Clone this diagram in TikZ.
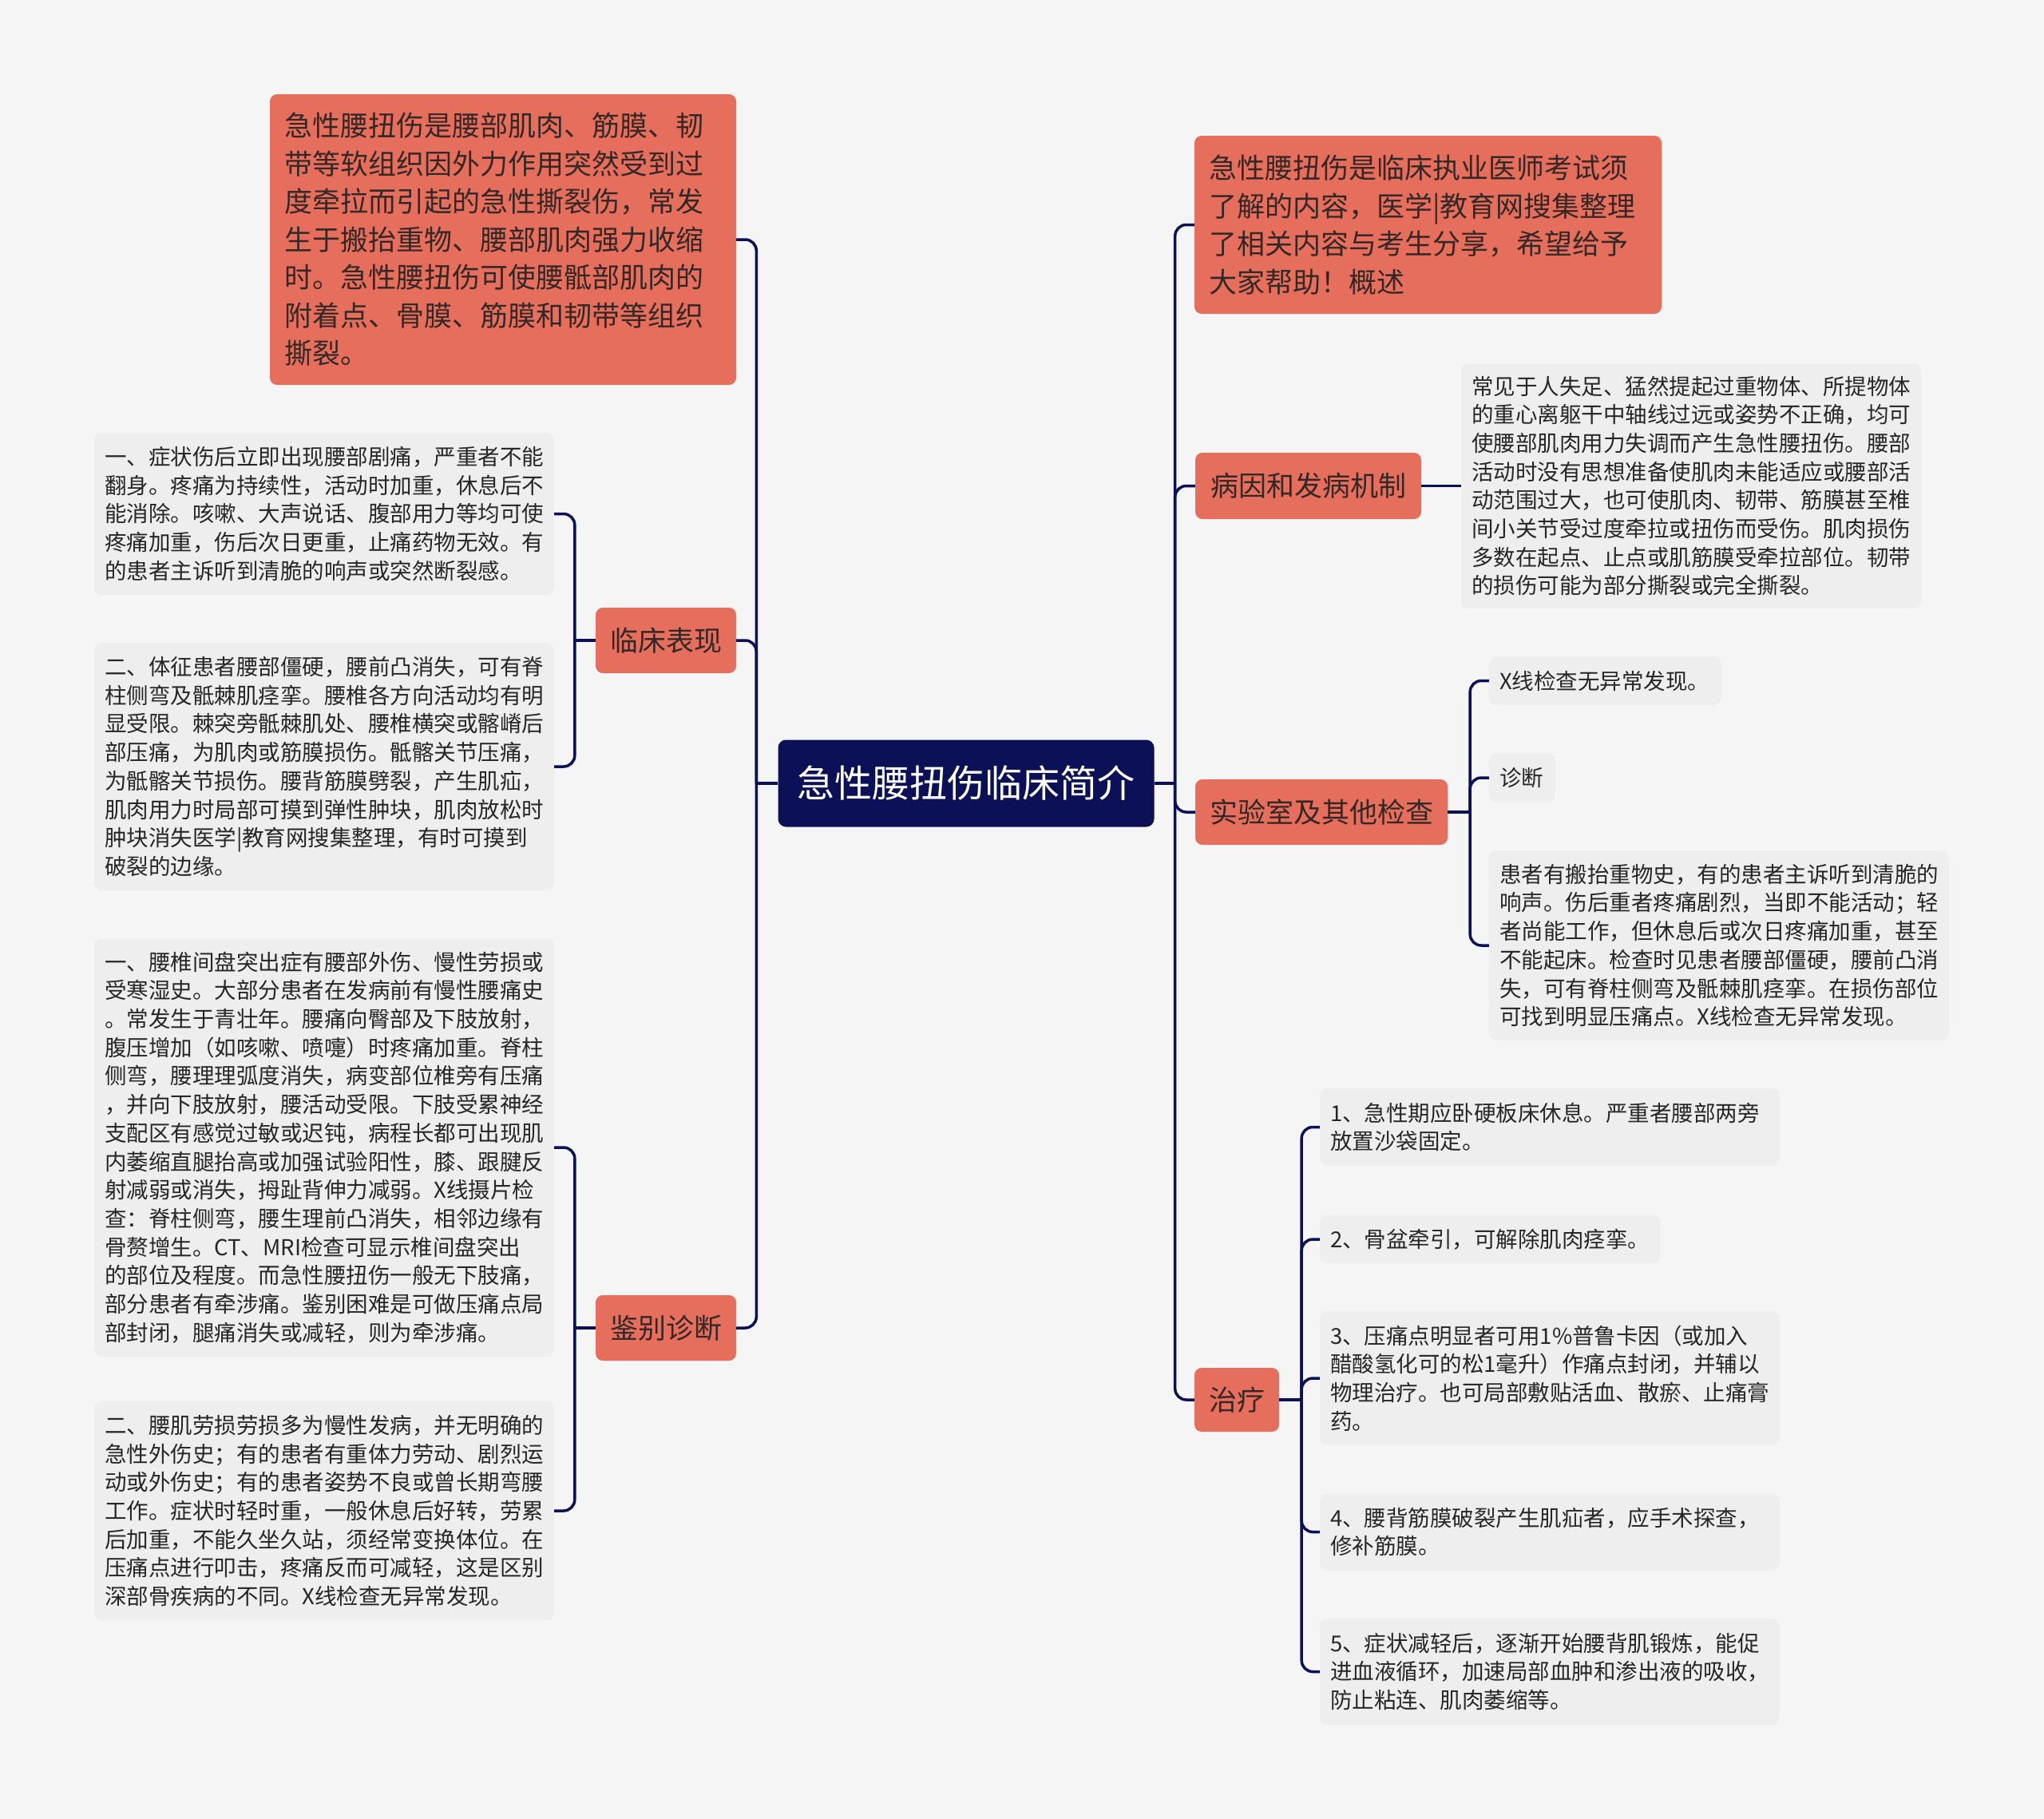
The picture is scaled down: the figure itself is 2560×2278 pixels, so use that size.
\documentclass[tikz,border=0pt]{standalone}
\usepackage{fontspec}
\setmainfont{Noto Sans CJK SC}
\usepackage{tikz}
\usetikzlibrary{positioning,calc}
\definecolor{navy}{RGB}{12,16,86}
\definecolor{coral}{RGB}{229,110,92}
\definecolor{paper}{RGB}{245,245,245}
\definecolor{leaf}{RGB}{238,238,238}
\definecolor{ink}{RGB}{52,40,38}

\begin{document}
\begin{tikzpicture}[x=1pt,y=-1pt,
  hub/.style={fill=navy,text=white,rounded corners=10pt,inner sep=0pt,font=\fontsize{47}{56}\selectfont},
  topic/.style={fill=coral,text=ink,rounded corners=9pt,inner xsep=18pt,inner ysep=0pt,align=left,font=\fontsize{35}{47.5}\selectfont},
  note/.style={fill=leaf,text=black!85,rounded corners=10pt,inner xsep=13pt,inner ysep=0pt,align=left,text width=550pt,font=\fontsize{27.5}{35.7}\selectfont},
  link/.style={draw=navy,line width=3.5pt,rounded corners=14pt}
]
\useasboundingbox (0,0) rectangle (2560,2278);
\fill[paper] (0,0) rectangle (2560,2278);

% Root
\node[hub,minimum width=471pt,minimum height=109pt] (root) at (1210,981) {急性腰扭伤临床简介};

% Left side
\node[topic,text width=548pt,minimum height=364pt] (intro) at (630,300) {急性腰扭伤是腰部肌肉、筋膜、韧\\带等软组织因外力作用突然受到过\\度牵拉而引起的急性撕裂伤，常发\\生于搬抬重物、腰部肌肉强力收缩\\时。急性腰扭伤可使腰骶部肌肉的\\附着点、骨膜、筋膜和韧带等组织\\撕裂。};
\node[topic,minimum width=176pt,minimum height=82pt] (clin) at (834,802) {临床表现};
\node[topic,minimum width=176pt,minimum height=82pt] (diff) at (834,1663) {鉴别诊断};

\node[note,minimum height=203pt] (c1) at (406,643.5) {一、症状伤后立即出现腰部剧痛，严重者不能\\翻身。疼痛为持续性，活动时加重，休息后不\\能消除。咳嗽、大声说话、腹部用力等均可使\\疼痛加重，伤后次日更重，止痛药物无效。有\\的患者主诉听到清脆的响声或突然断裂感。};
\node[note,minimum height=310pt] (c2) at (406,960) {二、体征患者腰部僵硬，腰前凸消失，可有脊\\柱侧弯及骶棘肌痉挛。腰椎各方向活动均有明\\显受限。棘突旁骶棘肌处、腰椎横突或髂嵴后\\部压痛，为肌肉或筋膜损伤。骶髂关节压痛，\\为骶髂关节损伤。腰背筋膜劈裂，产生肌疝，\\肌肉用力时局部可摸到弹性肿块，肌肉放松时\\肿块消失医学|教育网搜集整理，有时可摸到\\破裂的边缘。};
\node[note,minimum height=524pt] (d1) at (406,1437) {一、腰椎间盘突出症有腰部外伤、慢性劳损或\\受寒湿史。大部分患者在发病前有慢性腰痛史\\。常发生于青壮年。腰痛向臀部及下肢放射，\\腹压增加（如咳嗽、喷嚏）时疼痛加重。脊柱\\侧弯，腰理理弧度消失，病变部位椎旁有压痛\\，并向下肢放射，腰活动受限。下肢受累神经\\支配区有感觉过敏或迟钝，病程长都可出现肌\\内萎缩直腿抬高或加强试验阳性，膝、跟腱反\\射减弱或消失，拇趾背伸力减弱。X线摄片检\\查：脊柱侧弯，腰生理前凸消失，相邻边缘有\\骨赘增生。CT、MRI检查可显示椎间盘突出\\的部位及程度。而急性腰扭伤一般无下肢痛，\\部分患者有牵涉痛。鉴别困难是可做压痛点局\\部封闭，腿痛消失或减轻，则为牵涉痛。};
\node[note,minimum height=274pt] (d2) at (406,1892) {二、腰肌劳损劳损多为慢性发病，并无明确的\\急性外伤史；有的患者有重体力劳动、剧烈运\\动或外伤史；有的患者姿势不良或曾长期弯腰\\工作。症状时轻时重，一般休息后好转，劳累\\后加重，不能久坐久站，须经常变换体位。在\\压痛点进行叩击，疼痛反而可减轻，这是区别\\深部骨疾病的不同。X线检查无异常发现。};

% Right side
\node[topic,text width=549pt,minimum height=223pt] (summary) at (1788.5,281.5) {急性腰扭伤是临床执业医师考试须\\了解的内容，医学|教育网搜集整理\\了相关内容与考生分享，希望给予\\大家帮助！概述};
\node[topic,minimum width=283pt,minimum height=83pt] (cause) at (1638.5,608.5) {病因和发病机制};
\node[topic,minimum width=316pt,minimum height=82pt] (lab) at (1655,1017) {实验室及其他检查};
\node[topic,minimum width=104pt,minimum height=80pt] (treat) at (1549,1753) {治疗};

\node[note,minimum height=307pt] (causenote) at (2118,608.5) {常见于人失足、猛然提起过重物体、所提物体\\的重心离躯干中轴线过远或姿势不正确，均可\\使腰部肌肉用力失调而产生急性腰扭伤。腰部\\活动时没有思想准备使肌肉未能适应或腰部活\\动范围过大，也可使肌肉、韧带、筋膜甚至椎\\间小关节受过度牵拉或扭伤而受伤。肌肉损伤\\多数在起点、止点或肌筋膜受牵拉部位。韧带\\的损伤可能为部分撕裂或完全撕裂。};

\node[note,text width=265pt,minimum height=61pt] (l1) at (2010.5,852.5) {X线检查无异常发现。};
\node[note,text width=57pt,minimum height=62pt] (l2) at (1906.5,974) {诊断};
\node[note,minimum height=238pt] (l3) at (2153,1184) {患者有搬抬重物史，有的患者主诉听到清脆的\\响声。伤后重者疼痛剧烈，当即不能活动；轻\\者尚能工作，但休息后或次日疼痛加重，甚至\\不能起床。检查时见患者腰部僵硬，腰前凸消\\失，可有脊柱侧弯及骶棘肌痉挛。在损伤部位\\可找到明显压痛点。X线检查无异常发现。};

\node[note,minimum height=97pt] (t1) at (1941,1411.5) {1、急性期应卧硬板床休息。严重者腰部两旁\\放置沙袋固定。};
\node[note,text width=401pt,minimum height=60pt] (t2) at (1866.5,1552) {2、骨盆牵引，可解除肌肉痉挛。};
\node[note,minimum height=168pt] (t3) at (1941,1726) {3、压痛点明显者可用1\%普鲁卡因（或加入\\醋酸氢化可的松1毫升）作痛点封闭，并辅以\\物理治疗。也可局部敷贴活血、散瘀、止痛膏\\药。};
\node[note,minimum height=97pt] (t4) at (1941,1918.5) {4、腰背筋膜破裂产生肌疝者，应手术探查，\\修补筋膜。};
\node[note,minimum height=133pt] (t5) at (1941,2093.5) {5、症状减轻后，逐渐开始腰背肌锻炼，能促\\进血液循环，加速局部血肿和渗出液的吸收，\\防止粘连、肌肉萎缩等。};

% Connectors
\coordinate (jl) at ([xshift=-27pt]root.west);
\coordinate (jr) at ([xshift=26pt]root.east);
\draw[link] (root.west) -- (jl);
\draw[link] (root.east) -- (jr);
\foreach \n in {intro,clin,diff} \draw[link] (jl) |- (\n.east);
\foreach \n in {summary,cause,lab,treat} \draw[link] (jr) |- (\n.west);

\coordinate (jc) at ([xshift=-26pt]clin.west);
\draw[link] (clin.west) -- (jc);
\foreach \n in {c1,c2} \draw[link] (jc) |- (\n.east);

\coordinate (jd) at ([xshift=-26pt]diff.west);
\draw[link] (diff.west) -- (jd);
\foreach \n in {d1,d2} \draw[link] (jd) |- (\n.east);

\draw[link] (cause.east) -- (causenote.west);

\coordinate (jlab) at ([xshift=28pt]lab.east);
\draw[link] (lab.east) -- (jlab);
\foreach \n in {l1,l2,l3} \draw[link] (jlab) |- (\n.west);

\coordinate (jt) at ([xshift=28pt]treat.east);
\draw[link] (treat.east) -- (jt);
\foreach \n in {t1,t2,t3,t4,t5} \draw[link] (jt) |- (\n.west);
\end{tikzpicture}
\end{document}
